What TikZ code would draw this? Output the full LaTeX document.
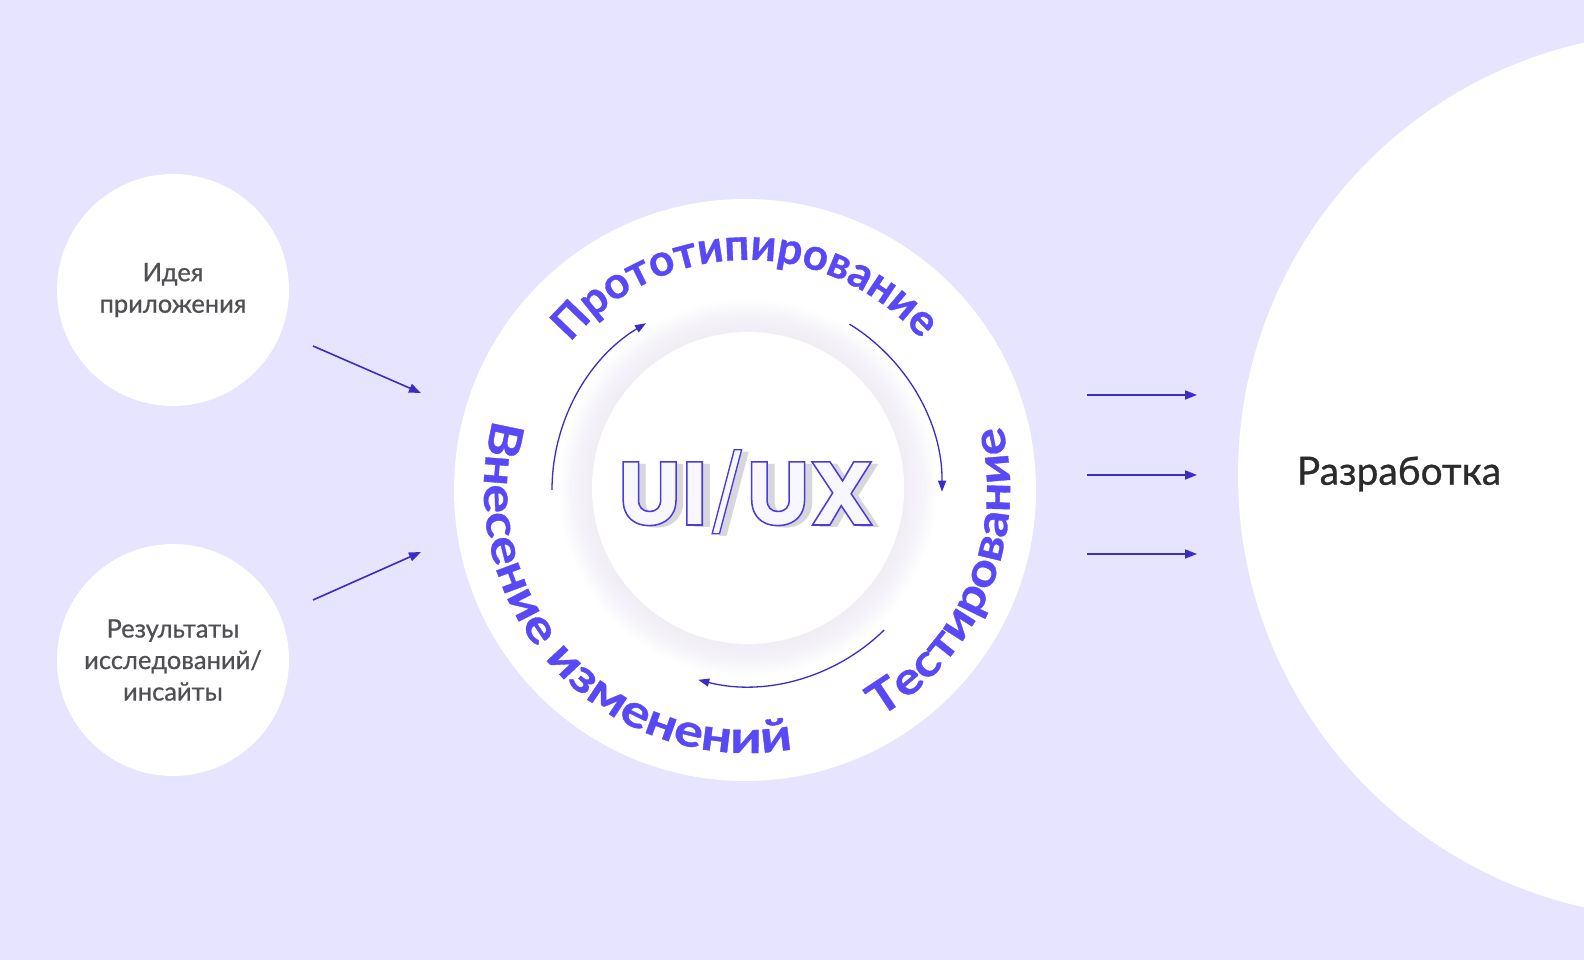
\documentclass[tikz,border=0pt]{standalone}
\usepackage{fontspec}
\setmainfont{Lato}
\newfontfamily\uifont{Poppins}
\newfontfamily\uioutline{Poppins}[FakeBold=1.7]
\newfontfamily\lblfont{Lato}[FakeBold=0.7]
\newfontfamily\ringA{Lato}[FakeBold=0.8]
\newfontfamily\ringB{Lato}[FakeBold=0.8, FakeStretch=1.15]
\newfontfamily\ringC{Lato}[FakeBold=0.8, FakeStretch=1.2]
\usetikzlibrary{decorations.text,arrows.meta}
\definecolor{bgc}{RGB}{230,228,255}
\definecolor{cycc}{RGB}{88,72,246}
\definecolor{arrc}{RGB}{58,44,196}
\definecolor{lblc}{RGB}{80,80,84}
\definecolor{devc}{RGB}{43,43,43}
\definecolor{uifill}{RGB}{248,247,255}
\definecolor{uishadow}{RGB}{214,214,220}
\definecolor{ringc}{RGB}{205,200,245}
\tikzset{
  bubble/.style={circle, fill=white, minimum size=232pt, inner sep=0pt, align=center,
    text=lblc, font=\lblfont\fontsize{25.5}{31.5}\selectfont},
  flowarrow/.style={draw=arrc, line width=1.6pt, -{Triangle[length=12pt,width=9pt]}},
  cyclearrow/.style={draw=arrc, line width=1.3pt, -{Triangle[length=11pt,width=8pt]}},
  ringtext/.style={decorate, decoration={text along path, text align=center, text color=cycc,
    text={#1}}},
  uitext/.style={anchor=base, inner sep=0pt}
}
\newcommand{\uistroke}{\special{pdf:literal direct 0.29 0.227 0.878 RG}}
\newcommand{\uislash}{{\mdseries\raisebox{4pt}{\scalebox{0.9}[0.84]{\uistroke/}}}\uistroke}
\begin{document}
\begin{tikzpicture}[x=1pt,y=1pt]
\useasboundingbox (0,0) rectangle (1584,960);
\fill[bgc] (0,0) rectangle (1584,960);
% development circle
\begin{scope}
\clip (0,0) rectangle (1584,960);
\node[circle, fill=white, minimum size=886pt, inner sep=0pt] (devcircle) at (1681,485) {};
\end{scope}
% main circle
\node[circle, fill=white, minimum size=582pt, inner sep=0pt] (main) at (745,470) {};
\coordinate (C) at (747,470);
% inner soft ring
\foreach \r in {158,161,...,188} {
  \fill[ringc, opacity=0.022] (748,472) circle (\r);
}
\fill[white] (748,472) circle (156);
% UI/UX
\node[uitext, text=uishadow, font=\uifont\bfseries\fontsize{90}{90}\selectfont] (uishadow) at (754,432) {UI\uislash UX};
\node[uitext, font=\uioutline\bfseries\fontsize{90}{90}\selectfont] (ui) at (746,435) {\color{uifill}\uistroke UI\uislash UX};
% labels
\node[text=devc, font=\lblfont\fontsize{39}{39}\selectfont] (dev) at (1399,486) {Разработка};
\node[bubble] (idea) at (173,670) {Идея\\приложения};
\node[bubble] (res) at (173,300) {Результаты\\исследований/\\инсайты};
% ring texts
\path[ringtext={|\ringA\bfseries\fontsize{44}{44}\selectfont|Прототипирование}]
  (C) ++(150.5:230) arc[start angle=150.5, end angle=30.5, radius=230];
\path[ringtext={|\ringB\bfseries\fontsize{45}{45}\selectfont|Тестирование}]
  (C) ++(-72.8:263) arc[start angle=-72.8, end angle=27.2, radius=263];
\path[ringtext={|\ringC\bfseries\fontsize{45}{45}\selectfont|Внесение изменений}]
  (C) ++(152.25:263) arc[start angle=152.25, end angle=292.25, radius=263];
% cycle arrows
\path (C) ++(180:195) coordinate (c1s);
\path (C) ++(58.3:195) coordinate (c2s);
\path (C) ++(-45.6:196) coordinate (c3s);
\draw[cyclearrow] (c1s) arc[start angle=180, end angle=121.2, radius=195];
\draw[cyclearrow] (c2s) arc[start angle=58.3, end angle=-0.5, radius=195];
\draw[cyclearrow] (c3s) arc[start angle=-45.6, end angle=-104.4, radius=196];
% input arrows
\coordinate (i1s) at (313,614);
\coordinate (i1e) at (421,567);
\coordinate (i2s) at (313,360);
\coordinate (i2e) at (421,408);
\draw[flowarrow] (i1s) -- (i1e);
\draw[flowarrow] (i2s) -- (i2e);
% output arrows
\foreach \y [count=\k] in {565,485,406} {
  \coordinate (o\k s) at (1087,\y);
  \coordinate (o\k e) at (1197,\y);
  \draw[flowarrow] (o\k s) -- (o\k e);
}
\end{tikzpicture}
\end{document}
